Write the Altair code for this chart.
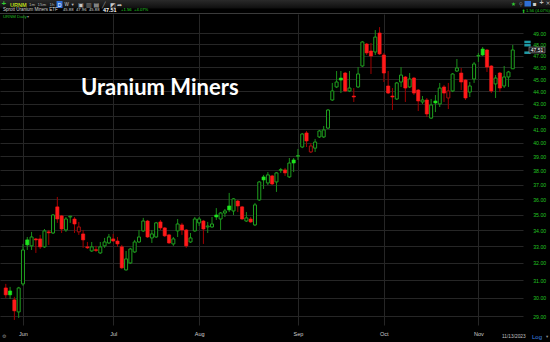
import json
import altair as alt
import pandas as pd

# ---------------- data ----------------
opens = [30.55, 30.38, 29.88, 29.22, 30.78, 33.40, 33.03, 33.46, 33.46, 32.97,
         33.90, 33.83, 35.51, 34.92, 34.02, 34.85, 34.72, 33.90, 33.77, 32.97,
         32.72, 32.80, 32.60, 33.03, 33.21, 33.46, 33.33, 32.97, 31.59, 32.00,
         32.66, 33.27, 33.96, 34.59, 33.52, 33.58, 34.53, 34.15, 33.71, 33.15,
         33.96, 34.34, 34.02, 33.27, 33.96, 34.47, 34.59, 34.21, 34.21, 34.98,
         34.72, 35.11, 35.57, 35.24, 35.90, 35.51, 34.59, 34.72, 34.34, 35.97,
         37.54, 37.12, 37.61, 37.19, 38.00, 38.03, 37.54, 38.74, 39.00, 39.68,
         40.73, 39.32, 39.60, 40.43, 40.43, 41.10, 43.30, 44.36, 45.10, 45.52,
         44.03, 43.62, 44.36, 46.12, 48.04, 47.42, 47.33, 49.03, 47.07, 44.44,
         43.62, 43.38, 44.77, 45.19, 44.36, 45.10, 44.11, 43.14, 43.30, 41.87,
         43.22, 42.98, 44.36, 43.46, 44.03, 45.69, 45.52, 44.93, 43.94, 45.02,
         46.98, 47.59, 47.51, 46.12, 44.61, 45.52, 44.44, 45.19, 45.88]
highs = [30.78, 30.61, 30.05, 30.61, 33.15, 33.58, 33.90, 33.52, 33.71, 34.08,
         34.02, 35.04, 36.17, 34.98, 34.85, 34.92, 34.85, 34.53, 34.02, 33.27,
         33.27, 33.03, 33.27, 33.52, 33.77, 33.77, 33.58, 33.09, 32.72, 32.91,
         33.40, 34.02, 34.79, 34.66, 34.02, 34.53, 34.66, 34.21, 33.77, 33.58,
         34.72, 34.47, 34.08, 33.83, 34.85, 34.85, 34.66, 34.53, 34.85, 35.43,
         35.17, 35.37, 36.44, 36.10, 35.97, 35.57, 35.17, 34.85, 35.77, 37.26,
         37.68, 37.88, 37.68, 37.88, 38.17, 38.17, 38.88, 38.88, 39.54, 40.73,
         40.88, 39.98, 40.28, 40.96, 41.26, 42.58, 44.69, 45.69, 45.69, 45.61,
         45.69, 44.27, 46.03, 48.30, 48.13, 48.13, 49.30, 49.57, 47.25, 45.69,
         44.27, 44.77, 46.03, 45.27, 45.52, 45.19, 44.19, 43.62, 43.46, 43.38,
         43.70, 44.69, 44.52, 44.69, 45.52, 46.72, 45.95, 45.02, 44.77, 46.46,
         47.25, 47.77, 47.59, 46.20, 45.35, 45.61, 46.12, 45.70, 47.96]
lows = [29.99, 29.93, 28.79, 28.90, 30.67, 32.78, 32.78, 32.60, 32.84, 32.91,
        33.09, 33.77, 34.47, 33.83, 33.90, 34.47, 33.83, 33.71, 32.91, 32.84,
        32.66, 32.66, 32.54, 32.91, 33.15, 33.27, 32.97, 31.65, 31.55, 31.94,
        32.60, 33.21, 33.90, 33.52, 33.21, 33.52, 34.02, 33.58, 33.15, 33.03,
        33.58, 33.71, 32.91, 33.21, 33.90, 34.27, 33.15, 33.83, 34.15, 34.66,
        34.02, 34.85, 35.17, 34.98, 35.17, 34.66, 34.53, 34.47, 34.27, 35.90,
        36.71, 36.98, 36.98, 36.51, 37.82, 37.61, 37.47, 37.88, 38.74, 39.60,
        39.68, 39.24, 39.32, 40.35, 40.35, 41.03, 43.22, 44.27, 43.86, 43.94,
        43.94, 43.14, 44.27, 46.03, 47.07, 45.44, 47.07, 47.07, 44.77, 43.78,
        42.50, 43.30, 44.36, 43.14, 44.27, 43.70, 42.42, 42.98, 41.95, 41.80,
        42.34, 42.74, 43.14, 42.58, 43.94, 45.61, 44.11, 43.30, 43.54, 44.69,
        46.46, 46.98, 45.61, 43.86, 43.46, 43.94, 44.27, 44.36, 45.88]
closes = [30.16, 30.16, 29.28, 30.55, 32.78, 33.09, 33.58, 33.40, 32.97, 33.96,
          33.84, 34.98, 34.72, 34.08, 34.72, 34.90, 34.40, 34.21, 33.40, 32.91,
          32.97, 32.75, 32.97, 33.27, 33.58, 33.33, 33.15, 31.71, 32.24, 32.84,
          33.27, 33.58, 34.59, 33.58, 33.77, 34.47, 34.15, 33.65, 33.21, 33.46,
          34.40, 34.02, 33.03, 33.52, 34.72, 34.72, 34.08, 34.27, 34.40, 34.85,
          35.11, 35.24, 35.31, 36.04, 35.57, 34.72, 34.79, 34.53, 35.64, 37.19,
          37.33, 37.68, 37.05, 37.82, 38.05, 37.82, 38.52, 38.52, 39.06, 40.65,
          40.13, 39.76, 40.05, 40.88, 40.96, 42.50, 44.03, 44.77, 44.93, 44.03,
          44.27, 43.54, 45.44, 48.22, 47.25, 46.98, 48.66, 47.16, 45.52, 43.86,
          43.54, 44.69, 45.35, 44.27, 45.02, 43.86, 43.22, 43.30, 42.19, 42.90,
          43.06, 44.27, 43.86, 44.03, 45.44, 45.95, 44.77, 43.46, 44.44, 46.29,
          47.03, 47.07, 46.03, 44.03, 45.10, 44.27, 45.19, 45.61, 47.51]
# candle colour: g = green (close above prior close), r = red
colors = ("r g r g g g g r r g r g r r g g r r r r "
          "g r g g g r r r g g g g g r g g r r r g "
          "g r r g g g r g g g g g g g r r g r g g "
          "g g r g g r g g g g r r g g g g g g g r "
          "g r g g r r g r r r r g g r g r r g r g "
          "g g r r g g r r g g g g r r g r g g g").split()

month_ticks = [4, 25, 45, 68, 88, 110]           # first trading day of each month
month_labels = ["Jun", "Jul", "Aug", "Sep", "Oct", "Nov"]
price_ticks = list(range(29, 50))
marker_prices = [48.22, 47.93, 47.27]            # small teal price markers

title_text = "Uranium Miners"
symbol = "URNM"
header_name = "Sprott Uranium Miners ETF"
header_ohlc = ["45.88", "47.96", "45.88"]
header_last = "47.51"
header_chg = ["+1.56", "+4.07%"]
last_date = "11/13/2023"

# ---------------- layout ----------------
W, H = 523, 311
TOP, LEFT, RIGHT, BOTTOM = 14, 0, 27, 17

GRID = "#262626"
AXIS_GREEN = "#22c322"

df = pd.DataFrame({"i": list(range(len(opens))), "o": opens, "h": highs,
                   "l": lows, "c": closes, "col": colors})
df["lo"] = df[["o", "c"]].min(axis=1)
df["hi"] = df[["o", "c"]].max(axis=1)
df["hollow"] = df["c"] > df["o"]
df["wick"] = df["col"].map({"g": "#1a8f1a", "r": "#a00000"})
df["line"] = df["col"].map({"g": "#1fa01f", "r": "#a81010"})
df["solid"] = df["col"].map({"g": "#1ee61e", "r": "#ff1a1a"})

xscale = alt.Scale(domain=[-0.183, 119.22], nice=False, zero=False)
yscale = alt.Scale(type="log", domain=[28.52, 50.79], nice=False, zero=False)

label_expr = f"{json.dumps(month_labels)}[indexof({json.dumps(month_ticks)}, datum.value)]"

x_axis = alt.Axis(values=month_ticks, labelExpr=label_expr, grid=True, gridColor=GRID,
                  gridWidth=1, domain=False, ticks=False, tickSize=0, labelPadding=8,
                  labelBaseline="middle", labelColor="#cfcfcf", labelFontSize=5.5,
                  labelFont="Liberation Sans", title=None, labelFlush=False)
y_axis = alt.Axis(orient="right", values=price_ticks, format=".2f", grid=True,
                  gridColor=GRID, gridWidth=1, domain=False, ticks=False, tickSize=0,
                  labelPadding=9.7, labelColor=AXIS_GREEN, labelFontSize=5.2,
                  labelFont="Liberation Sans", title=None, labelFlush=False,
                  labelOverlap=False)


def X(field):
    return alt.X(field, type="quantitative", scale=xscale, axis=x_axis)


def Y(field):
    return alt.Y(field, type="quantitative", scale=yscale, axis=y_axis)


wicks = alt.Chart(df).mark_rule(strokeWidth=1).encode(
    x=X("i"), y=Y("l"), y2="h:Q",
    color=alt.Color("wick:N", scale=None),
)

hollow = alt.Chart(df).transform_filter("datum.hollow").mark_bar(
    size=3, strokeWidth=1, fill="#000000").encode(
    x=X("i"), y=Y("lo"), y2="hi:Q",
    stroke=alt.Stroke("line:N", scale=None),
)

filled = alt.Chart(df).transform_filter("!datum.hollow").mark_bar(
    size=3.2, strokeWidth=0.6).encode(
    x=X("i"), y=Y("lo"), y2="hi:Q",
    fill=alt.Fill("solid:N", scale=None),
    stroke=alt.Stroke("solid:N", scale=None),
)

one = pd.DataFrame({"k": [0]})


def txt(s, x, y_abs, size, color, weight="normal", font="Liberation Sans",
        align="left", baseline="middle"):
    return alt.Chart(one).mark_text(
        text=s, fontSize=size, color=color, fontWeight=weight, font=font,
        align=align, baseline=baseline).encode(
        x=alt.value(x), y=alt.value(y_abs - TOP))


def box(x1, x2, y1_abs, y2_abs, fill):
    return alt.Chart(one).mark_rect(fill=fill).encode(
        x=alt.value(x1), x2=alt.value(x2),
        y=alt.value(y1_abs - TOP), y2=alt.value(y2_abs - TOP))


header_band = alt.Chart(one).mark_rect(
    color=alt.LinearGradient(gradient="linear",
                             stops=[alt.GradientStop(color="#2a2a2a", offset=0),
                                    alt.GradientStop(color="#0e0e0e", offset=1)],
                             x1=0, x2=0, y1=0, y2=1)).encode(
    x=alt.value(0), x2=alt.value(550), y=alt.value(0 - TOP), y2=alt.value(8.5 - TOP))

separator = alt.Chart(one).mark_rule(color="#3a3a3a", strokeWidth=1).encode(
    x=alt.value(0), x2=alt.value(550), y=alt.value(13.5 - TOP))

title = alt.Chart(one).mark_text(
    text=title_text, font="Lato", fontWeight="bold", fontSize=22, color="#ffffff",
    align="left", baseline="alphabetic").encode(x=alt.value(81), y=alt.value(95 - TOP))

last_df = pd.DataFrame({"p": [closes[-1]], "t": [header_last]})
price_box = alt.Chart(last_df).mark_point(
    shape="M-1,-0.36L1,-0.36L1,0.36L-1,0.36Z", size=256, filled=True,
    fill="#1a1a1a", stroke="#a0a0a0", strokeWidth=0.6, opacity=1).encode(
    x=alt.value(537), y=Y("p"))
price_txt = alt.Chart(last_df).mark_text(
    fontSize=5, color="#ffffff", font="Liberation Sans", align="center",
    baseline="middle").encode(x=alt.value(537), y=Y("p"), text="t:N")

markers = alt.Chart(pd.DataFrame({"p": marker_prices})).mark_point(
    shape="M-1,-0.4L1,-0.4L1,0.4L-1,0.4Z", size=40, filled=True,
    color="#1f9aa5", opacity=1).encode(x=alt.value(527.5), y=Y("p"))

G = "DejaVu Sans"
decor = [
    header_band, separator,
    txt("+", 1.5, 4.2, 8, "#33cc33", weight="bold"),
    txt(symbol, 10, 4.6, 5.6, "#b8d41e", weight="bold"),
    txt("1m", 29, 4.6, 4.4, "#b0b0b0"),
    txt("15m", 37.5, 4.6, 4.4, "#b0b0b0"),
    txt("1h", 49.5, 4.6, 4.4, "#b0b0b0"),
    box(56.5, 62.5, 1, 8, "#2f6fd6"),
    txt("D", 59.5, 4.6, 5, "#ffffff", align="center"),
    txt("W", 64.5, 4.6, 4.6, "#d0d0d0"),
    txt("▾", 71.5, 4.6, 4.6, "#c0c0c0", font=G),
    txt("▣", 78, 4.6, 6, "#c8c8c8", font=G),
    txt("▥", 86, 4.6, 6, "#9a9a9a", font=G),
    txt("▤", 93.5, 4.6, 6, "#c8c8c8", font=G),
    txt("╱", 102, 4.6, 6, "#a0a0a0", font=G),
    txt("◩", 110, 4.6, 6, "#c8c8c8", font=G),
    txt("➦", 117, 4.6, 6, "#c8c8c8", font=G),
    txt("★", 511, 3.6, 5.5, "#33cc33", font=G),
    txt("⚲", 519, 3.6, 5, "#909090", font=G),
    box(524.5, 531, 1, 6.5, "#2f6fd6"),
    txt("▪", 532.5, 3.6, 6, "#cfcfcf", font=G),
    txt("+", 539.5, 3.4, 7, "#bfbfbf", weight="bold"),
    txt("×", 545.5, 3.4, 6, "#bfbfbf", font=G),
    txt(header_name, 3, 10.4, 4.5, "#d8d8d8"),
    txt(header_ohlc[0], 63, 10.4, 4.2, "#d8d8d8"),
    txt(header_ohlc[1], 76, 10.4, 4.2, "#d8d8d8"),
    txt(header_ohlc[2], 89, 10.4, 4.2, "#d8d8d8"),
    txt(header_last, 103, 10.2, 5.4, "#ffffff", weight="bold"),
    txt(header_chg[0], 121, 10.4, 4.2, "#22dd22"),
    txt(header_chg[1], 134, 10.4, 4.2, "#22dd22"),
    txt("⬆", 521.5, 10.6, 5, "#22cc22", font=G),
    txt(header_chg[0].lstrip("+") + " (" + header_chg[1].lstrip("+") + ")", 526, 10.7, 4.2, "#22cc22"),
    txt(symbol + " Daily", 3, 17.3, 4.3, "#22bb22"),
    txt("▾", 27, 17.3, 4, "#909090", font=G),
    title,
    txt(last_date, 502, 336.5, 4.8, "#c0c0c0"),
    txt("Log", 532, 336.5, 6, "#3d85e0"),
    txt("▾", 546, 336.5, 4.5, "#909090", font=G),
    txt("⚙", 2, 336, 5, "#8a8a8a", font=G),
]

chart = alt.layer(
    wicks, hollow, filled, markers, price_box, price_txt, *decor
).properties(
    width=W, height=H,
    padding={"left": LEFT, "top": TOP, "right": RIGHT, "bottom": BOTTOM},
    autosize=alt.AutoSizeParams(type="none"),
    background="#000000",
).configure_view(strokeWidth=0, fill="#000000")

chart.save("out.html", embed_options={"renderer": "svg", "actions": False})
